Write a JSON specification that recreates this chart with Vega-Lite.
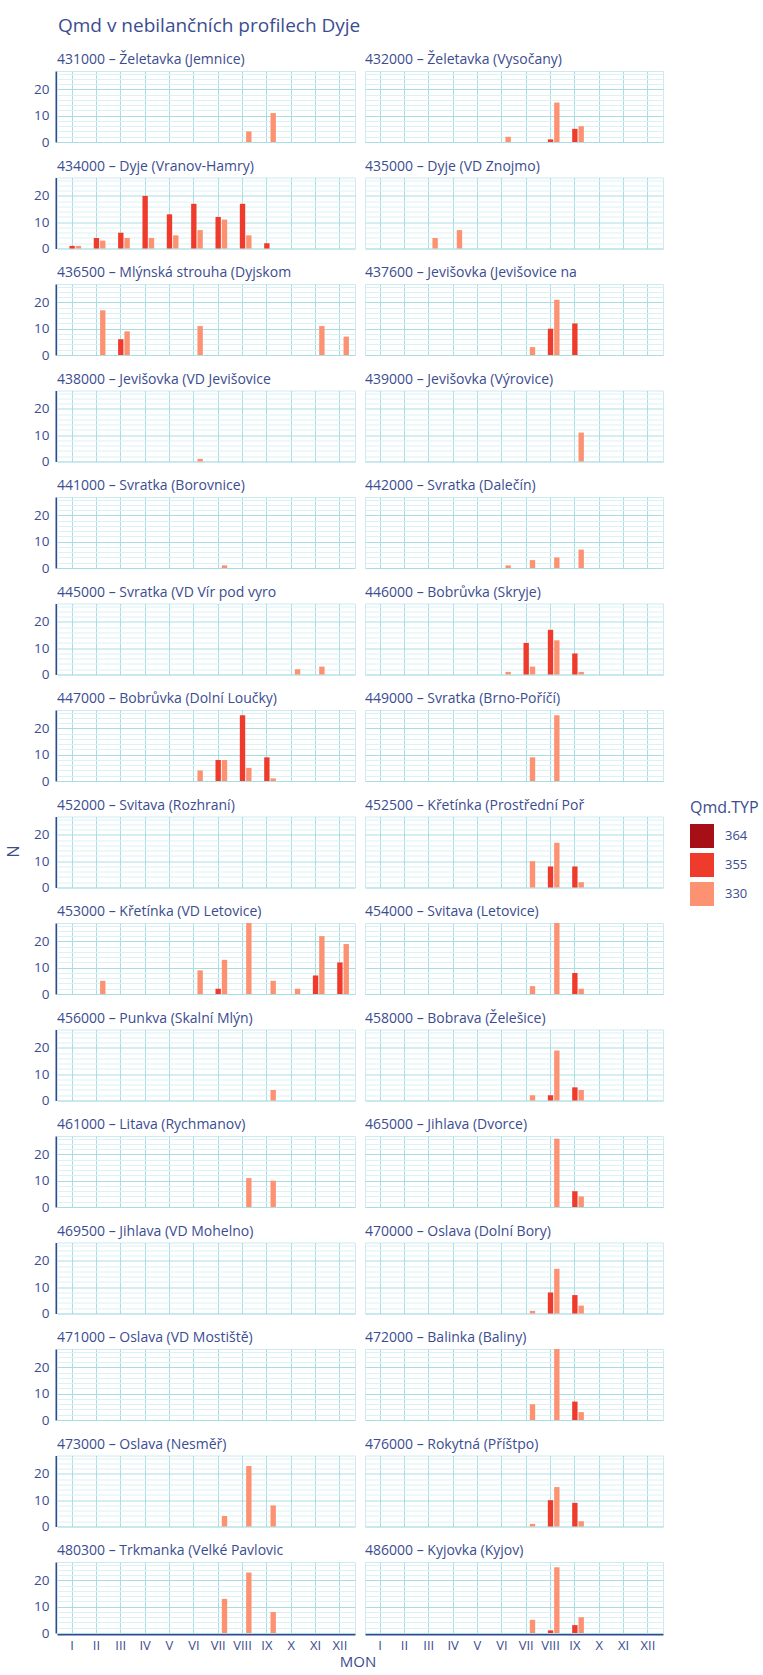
{
  "$schema": "https://vega.github.io/schema/vega-lite/v6.json",
  "background": "white",
  "padding": {"left": 0, "top": 16, "right": 5, "bottom": 0},
  "title": {"text": "Qmd  v nebilančních profilech Dyje", "anchor": "start", "frame": "group", "dx": 58, "fontSize": 19, "font": "Open Sans", "color": "#3b4d8f", "fontWeight": "normal", "offset": 17},
  "config": {
    "font": "Open Sans",
    "axis": {"labelColor": "#3b4d8f", "titleColor": "#3b4d8f", "labelFont": "Open Sans", "labelFontSize": 13},
    "legend": {"labelColor": "#3b4d8f", "titleColor": "#3b4d8f", "labelFont": "Open Sans", "titleFont": "Open Sans"},
    "text": {"color": "#3b4d8f"}
  },
  "datasets": {
    "d": [
      {"p": "431000 – Želetavka (Jemnice)", "m": "VIII", "t": "330", "n": 4},
      {"p": "431000 – Želetavka (Jemnice)", "m": "IX", "t": "330", "n": 11},
      {"p": "432000 – Želetavka (Vysočany)", "m": "VI", "t": "330", "n": 2},
      {"p": "432000 – Želetavka (Vysočany)", "m": "VIII", "t": "355", "n": 1},
      {"p": "432000 – Želetavka (Vysočany)", "m": "VIII", "t": "330", "n": 15},
      {"p": "432000 – Želetavka (Vysočany)", "m": "IX", "t": "355", "n": 5},
      {"p": "432000 – Želetavka (Vysočany)", "m": "IX", "t": "330", "n": 6},
      {"p": "434000 – Dyje (Vranov-Hamry)", "m": "I", "t": "355", "n": 1},
      {"p": "434000 – Dyje (Vranov-Hamry)", "m": "I", "t": "330", "n": 1},
      {"p": "434000 – Dyje (Vranov-Hamry)", "m": "II", "t": "355", "n": 4},
      {"p": "434000 – Dyje (Vranov-Hamry)", "m": "II", "t": "330", "n": 3},
      {"p": "434000 – Dyje (Vranov-Hamry)", "m": "III", "t": "355", "n": 6},
      {"p": "434000 – Dyje (Vranov-Hamry)", "m": "III", "t": "330", "n": 4},
      {"p": "434000 – Dyje (Vranov-Hamry)", "m": "IV", "t": "355", "n": 20},
      {"p": "434000 – Dyje (Vranov-Hamry)", "m": "IV", "t": "330", "n": 4},
      {"p": "434000 – Dyje (Vranov-Hamry)", "m": "V", "t": "355", "n": 13},
      {"p": "434000 – Dyje (Vranov-Hamry)", "m": "V", "t": "330", "n": 5},
      {"p": "434000 – Dyje (Vranov-Hamry)", "m": "VI", "t": "355", "n": 17},
      {"p": "434000 – Dyje (Vranov-Hamry)", "m": "VI", "t": "330", "n": 7},
      {"p": "434000 – Dyje (Vranov-Hamry)", "m": "VII", "t": "355", "n": 12},
      {"p": "434000 – Dyje (Vranov-Hamry)", "m": "VII", "t": "330", "n": 11},
      {"p": "434000 – Dyje (Vranov-Hamry)", "m": "VIII", "t": "355", "n": 17},
      {"p": "434000 – Dyje (Vranov-Hamry)", "m": "VIII", "t": "330", "n": 5},
      {"p": "434000 – Dyje (Vranov-Hamry)", "m": "IX", "t": "355", "n": 2},
      {"p": "435000 – Dyje (VD Znojmo)", "m": "III", "t": "330", "n": 4},
      {"p": "435000 – Dyje (VD Znojmo)", "m": "IV", "t": "330", "n": 7},
      {"p": "436500 – Mlýnská strouha (Dyjskom", "m": "II", "t": "330", "n": 17},
      {"p": "436500 – Mlýnská strouha (Dyjskom", "m": "III", "t": "355", "n": 6},
      {"p": "436500 – Mlýnská strouha (Dyjskom", "m": "III", "t": "330", "n": 9},
      {"p": "436500 – Mlýnská strouha (Dyjskom", "m": "VI", "t": "330", "n": 11},
      {"p": "436500 – Mlýnská strouha (Dyjskom", "m": "XI", "t": "330", "n": 11},
      {"p": "436500 – Mlýnská strouha (Dyjskom", "m": "XII", "t": "330", "n": 7},
      {"p": "437600 – Jevišovka (Jevišovice na", "m": "VII", "t": "330", "n": 3},
      {"p": "437600 – Jevišovka (Jevišovice na", "m": "VIII", "t": "355", "n": 10},
      {"p": "437600 – Jevišovka (Jevišovice na", "m": "VIII", "t": "330", "n": 21},
      {"p": "437600 – Jevišovka (Jevišovice na", "m": "IX", "t": "355", "n": 12},
      {"p": "438000 – Jevišovka (VD Jevišovice", "m": "VI", "t": "330", "n": 1},
      {"p": "439000 – Jevišovka (Výrovice)", "m": "IX", "t": "330", "n": 11},
      {"p": "441000 – Svratka (Borovnice)", "m": "VII", "t": "330", "n": 1},
      {"p": "442000 – Svratka (Dalečín)", "m": "VI", "t": "330", "n": 1},
      {"p": "442000 – Svratka (Dalečín)", "m": "VII", "t": "330", "n": 3},
      {"p": "442000 – Svratka (Dalečín)", "m": "VIII", "t": "330", "n": 4},
      {"p": "442000 – Svratka (Dalečín)", "m": "IX", "t": "330", "n": 7},
      {"p": "445000 – Svratka (VD Vír pod vyro", "m": "X", "t": "330", "n": 2},
      {"p": "445000 – Svratka (VD Vír pod vyro", "m": "XI", "t": "330", "n": 3},
      {"p": "446000 – Bobrůvka (Skryje)", "m": "VI", "t": "330", "n": 1},
      {"p": "446000 – Bobrůvka (Skryje)", "m": "VII", "t": "355", "n": 12},
      {"p": "446000 – Bobrůvka (Skryje)", "m": "VII", "t": "330", "n": 3},
      {"p": "446000 – Bobrůvka (Skryje)", "m": "VIII", "t": "355", "n": 17},
      {"p": "446000 – Bobrůvka (Skryje)", "m": "VIII", "t": "330", "n": 13},
      {"p": "446000 – Bobrůvka (Skryje)", "m": "IX", "t": "355", "n": 8},
      {"p": "446000 – Bobrůvka (Skryje)", "m": "IX", "t": "330", "n": 1},
      {"p": "447000 – Bobrůvka (Dolní Loučky)", "m": "VI", "t": "330", "n": 4},
      {"p": "447000 – Bobrůvka (Dolní Loučky)", "m": "VII", "t": "355", "n": 8},
      {"p": "447000 – Bobrůvka (Dolní Loučky)", "m": "VII", "t": "330", "n": 8},
      {"p": "447000 – Bobrůvka (Dolní Loučky)", "m": "VIII", "t": "355", "n": 25},
      {"p": "447000 – Bobrůvka (Dolní Loučky)", "m": "VIII", "t": "330", "n": 5},
      {"p": "447000 – Bobrůvka (Dolní Loučky)", "m": "IX", "t": "355", "n": 9},
      {"p": "447000 – Bobrůvka (Dolní Loučky)", "m": "IX", "t": "330", "n": 1},
      {"p": "449000 – Svratka (Brno-Poříčí)", "m": "VII", "t": "330", "n": 9},
      {"p": "449000 – Svratka (Brno-Poříčí)", "m": "VIII", "t": "330", "n": 25},
      {"p": "452000 – Svitava (Rozhraní)", "m": "I", "t": "330", "n": 0},
      {"p": "452500 – Křetínka (Prostřední Poř", "m": "VII", "t": "330", "n": 10},
      {"p": "452500 – Křetínka (Prostřední Poř", "m": "VIII", "t": "355", "n": 8},
      {"p": "452500 – Křetínka (Prostřední Poř", "m": "VIII", "t": "330", "n": 17},
      {"p": "452500 – Křetínka (Prostřední Poř", "m": "IX", "t": "355", "n": 8},
      {"p": "452500 – Křetínka (Prostřední Poř", "m": "IX", "t": "330", "n": 2},
      {"p": "453000 – Křetínka (VD Letovice)", "m": "II", "t": "330", "n": 5},
      {"p": "453000 – Křetínka (VD Letovice)", "m": "VI", "t": "330", "n": 9},
      {"p": "453000 – Křetínka (VD Letovice)", "m": "VII", "t": "355", "n": 2},
      {"p": "453000 – Křetínka (VD Letovice)", "m": "VII", "t": "330", "n": 13},
      {"p": "453000 – Křetínka (VD Letovice)", "m": "VIII", "t": "330", "n": 27},
      {"p": "453000 – Křetínka (VD Letovice)", "m": "IX", "t": "330", "n": 5},
      {"p": "453000 – Křetínka (VD Letovice)", "m": "X", "t": "330", "n": 2},
      {"p": "453000 – Křetínka (VD Letovice)", "m": "XI", "t": "355", "n": 7},
      {"p": "453000 – Křetínka (VD Letovice)", "m": "XI", "t": "330", "n": 22},
      {"p": "453000 – Křetínka (VD Letovice)", "m": "XII", "t": "355", "n": 12},
      {"p": "453000 – Křetínka (VD Letovice)", "m": "XII", "t": "330", "n": 19},
      {"p": "454000 – Svitava (Letovice)", "m": "VII", "t": "330", "n": 3},
      {"p": "454000 – Svitava (Letovice)", "m": "VIII", "t": "330", "n": 27},
      {"p": "454000 – Svitava (Letovice)", "m": "IX", "t": "355", "n": 8},
      {"p": "454000 – Svitava (Letovice)", "m": "IX", "t": "330", "n": 2},
      {"p": "456000 – Punkva (Skalní Mlýn)", "m": "IX", "t": "330", "n": 4},
      {"p": "458000 – Bobrava (Želešice)", "m": "VII", "t": "330", "n": 2},
      {"p": "458000 – Bobrava (Želešice)", "m": "VIII", "t": "355", "n": 2},
      {"p": "458000 – Bobrava (Želešice)", "m": "VIII", "t": "330", "n": 19},
      {"p": "458000 – Bobrava (Želešice)", "m": "IX", "t": "355", "n": 5},
      {"p": "458000 – Bobrava (Želešice)", "m": "IX", "t": "330", "n": 4},
      {"p": "461000 – Litava (Rychmanov)", "m": "VIII", "t": "330", "n": 11},
      {"p": "461000 – Litava (Rychmanov)", "m": "IX", "t": "330", "n": 10},
      {"p": "465000 – Jihlava (Dvorce)", "m": "VIII", "t": "330", "n": 26},
      {"p": "465000 – Jihlava (Dvorce)", "m": "IX", "t": "355", "n": 6},
      {"p": "465000 – Jihlava (Dvorce)", "m": "IX", "t": "330", "n": 4},
      {"p": "469500 – Jihlava (VD Mohelno)", "m": "I", "t": "330", "n": 0},
      {"p": "470000 – Oslava (Dolní Bory)", "m": "VII", "t": "330", "n": 1},
      {"p": "470000 – Oslava (Dolní Bory)", "m": "VIII", "t": "355", "n": 8},
      {"p": "470000 – Oslava (Dolní Bory)", "m": "VIII", "t": "330", "n": 17},
      {"p": "470000 – Oslava (Dolní Bory)", "m": "IX", "t": "355", "n": 7},
      {"p": "470000 – Oslava (Dolní Bory)", "m": "IX", "t": "330", "n": 3},
      {"p": "471000 – Oslava (VD Mostiště)", "m": "I", "t": "330", "n": 0},
      {"p": "472000 – Balinka (Baliny)", "m": "VII", "t": "330", "n": 6},
      {"p": "472000 – Balinka (Baliny)", "m": "VIII", "t": "330", "n": 27},
      {"p": "472000 – Balinka (Baliny)", "m": "IX", "t": "355", "n": 7},
      {"p": "472000 – Balinka (Baliny)", "m": "IX", "t": "330", "n": 3},
      {"p": "473000 – Oslava (Nesměř)", "m": "VII", "t": "330", "n": 4},
      {"p": "473000 – Oslava (Nesměř)", "m": "VIII", "t": "330", "n": 23},
      {"p": "473000 – Oslava (Nesměř)", "m": "IX", "t": "330", "n": 8},
      {"p": "476000 – Rokytná (Příštpo)", "m": "VII", "t": "330", "n": 1},
      {"p": "476000 – Rokytná (Příštpo)", "m": "VIII", "t": "355", "n": 10},
      {"p": "476000 – Rokytná (Příštpo)", "m": "VIII", "t": "330", "n": 15},
      {"p": "476000 – Rokytná (Příštpo)", "m": "IX", "t": "355", "n": 9},
      {"p": "476000 – Rokytná (Příštpo)", "m": "IX", "t": "330", "n": 2},
      {"p": "480300 – Trkmanka (Velké Pavlovic", "m": "VII", "t": "330", "n": 13},
      {"p": "480300 – Trkmanka (Velké Pavlovic", "m": "VIII", "t": "330", "n": 23},
      {"p": "480300 – Trkmanka (Velké Pavlovic", "m": "IX", "t": "330", "n": 8},
      {"p": "486000 – Kyjovka (Kyjov)", "m": "VII", "t": "330", "n": 5},
      {"p": "486000 – Kyjovka (Kyjov)", "m": "VIII", "t": "355", "n": 1},
      {"p": "486000 – Kyjovka (Kyjov)", "m": "VIII", "t": "330", "n": 25},
      {"p": "486000 – Kyjovka (Kyjov)", "m": "IX", "t": "355", "n": 3},
      {"p": "486000 – Kyjovka (Kyjov)", "m": "IX", "t": "330", "n": 6}
    ]
  },
  "vconcat": [
    {
      "hconcat": [
        {
          "data": {"values": [{"t": "N"}]},
          "view": {"stroke": null},
          "width": 28,
          "height": 1561,
          "mark": {"type": "text", "angle": 270, "fontSize": 16, "font": "Open Sans", "color": "#3b4d8f"},
          "encoding": {"text": {"field": "t"}}
        },
        {
          "data": {"name": "d"},
          "columns": 2,
          "spacing": {"row": 15.5, "column": 8},
          "facet": {
            "field": "p", "type": "nominal", "title": null,
            "header": {"labelAnchor": "start", "labelOrient": "top", "labelFontSize": 14, "labelFont": "Open Sans", "labelColor": "#3b4d8f", "labelPadding": 4, "labelLimit": 0, "labelExpr": "'\u200b\u2002\u2009' + datum.label"}
          },
          "spec": {
            "width": 298,
            "height": 71,
            "view": {"stroke": "#cdeaf0"},
            "mark": {"type": "bar"},
            "encoding": {
              "x": {
                "field": "m", "type": "nominal", "title": null,
                "scale": {"domain": ["I","II","III","IV","V","VI","VII","VIII","IX","X","XI","XII"], "paddingInner": 0.26, "paddingOuter": 0.25},
                "axis": {"grid": true, "bandPosition": 0.5, "gridColor": "#a9dde4", "gridWidth": 1, "ticks": false, "domain": true, "domainColor": "#34488c", "domainWidth": 2, "labelAngle": 0, "labelPadding": 5, "labelFontSize": 13}
              },
              "xOffset": {"field": "t", "type": "nominal", "scale": {"domain": ["364","355","330"], "paddingInner": 0.15}},
              "y": {
                "field": "n", "type": "quantitative", "title": null,
                "scale": {"domain": [0, 27], "nice": false},
                "axis": {
                  "values": [0,2,4,6,8,10,12,14,16,18,20,22,24,26],
                  "labelExpr": "datum.value % 10 === 0 ? datum.label : ''",
                  "grid": true,
                  "gridColor": {"condition": {"test": "datum.value % 10 === 0", "value": "#a9dde4"}, "value": "#dcf1f4"},
                  "ticks": false, "domain": true, "domainColor": "#34488c", "domainWidth": 2,
                  "labelPadding": 7, "labelFontSize": 13.5
                }
              },
              "color": {
                "field": "t", "type": "nominal", "title": "Qmd.TYP",
                "scale": {"domain": ["364","355","330"], "range": ["#a50f15","#ef3b2c","#fc9272"]},
                "legend": {"orient": "none", "legendX": 690, "legendY": 729, "symbolType": "square", "symbolSize": 576, "symbolStrokeWidth": 0, "labelFontSize": 13, "titleFontSize": 16, "titleFontWeight": "normal", "rowPadding": 5, "titlePadding": 8, "labelOffset": 11}
              }
            }
          }
        }
      ],
      "spacing": 5
    },
    {
      "data": {"values": [{"t": "MON"}]},
      "view": {"stroke": null},
      "width": 716,
      "height": 10,
      "mark": {"type": "text", "fontSize": 15, "font": "Open Sans", "color": "#3b4d8f"},
      "encoding": {"text": {"field": "t"}}
    }
  ],
  "spacing": 3
}
